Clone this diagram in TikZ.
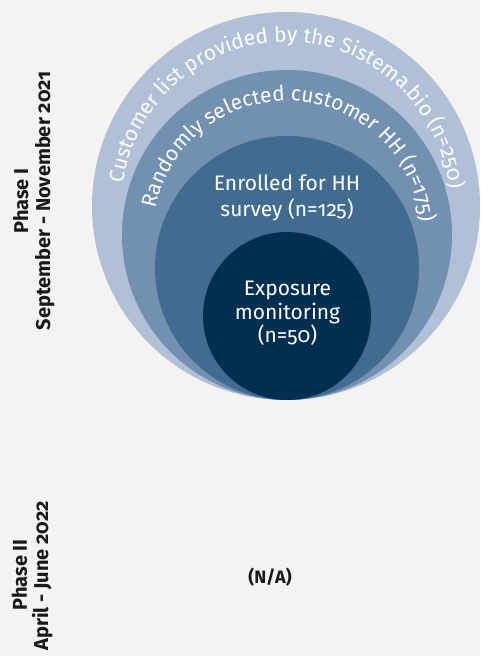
\documentclass[tikz,border=0pt]{standalone}
\usepackage{fontspec}
\setmainfont{Fira Sans}[Numbers=OldStyle]
\usetikzlibrary{decorations.text}
\definecolor{bgc}{RGB}{245,243,241}
\definecolor{ringA}{RGB}{176,192,214}
\definecolor{ringB}{RGB}{114,144,176}
\definecolor{ringC}{RGB}{66,107,144}
\definecolor{ringD}{RGB}{2,46,80}
\definecolor{labelc}{RGB}{26,26,26}
\tikzset{
  ringtext/.style={text=white, align=center, inner sep=0pt},
  sidelabel/.style={text=labelc, font=\fontsize{20}{24}\selectfont\bfseries, rotate=90, anchor=base, inner sep=0pt},
  arctext/.style={decorate, decoration={text along path, text color=white, text align=center, text={#1}}}
}
\begin{document}
\begin{tikzpicture}[x=1pt,y=1pt]
\useasboundingbox (0,0) rectangle (480,656);
\fill[bgc] (0,0) rectangle (480,656);
% circles, all tangent at the bottom
\fill[ringA] (286,450) circle[radius=194pt];
\fill[ringB] (287,421) circle[radius=165pt];
\fill[ringC] (287,388) circle[radius=132pt];
\fill[ringD] (287,340) circle[radius=84pt];
% curved texts
\coordinate (cA) at (286,450);
\coordinate (cB) at (287,421);
\path[arctext={|\fontsize{21}{24}\selectfont|Customer list provided by the Sistema.bio (n=250)}]
  (cA) ++(171:164) arc[start angle=171, end angle=7, radius=164pt];
\path[arctext={|\fontsize{21}{24}\selectfont|Randomly selected customer HH (n=175)}]
  (cB) ++(170:134) arc[start angle=170, end angle=4, radius=134pt];
% inner texts (base anchor = last line)
\node[ringtext, font=\fontsize{21}{26}\selectfont, anchor=base] (enr) at (287,439) {Enrolled for HH\\survey (n=125)};
\node[ringtext, font=\fontsize{21}{23.5}\selectfont, anchor=base] (exp) at (287.5,313) {Exposure\\monitoring\\(n=50)};
% side labels
\node[sidelabel] (p1) at (28,455) {Phase I};
\node[sidelabel] (d1) at (50,455) {September - November 2021};
\node[sidelabel] (p2) at (27,81) {Phase II};
\node[sidelabel] (d2) at (48,80) {April - June 2022};
\node[text=labelc, font=\fontsize{18}{22}\selectfont\bfseries, inner sep=0pt] (na) at (270,79) {(N/A)};
\end{tikzpicture}
\end{document}
